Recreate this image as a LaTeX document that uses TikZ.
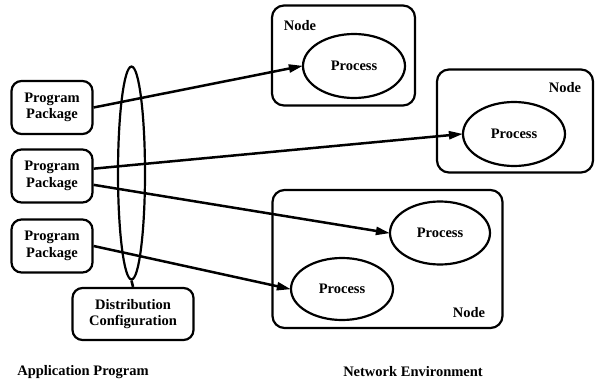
\documentclass[tikz,border=0pt]{standalone}
\usepackage{fontspec}
\setmainfont{Liberation Serif}
\usetikzlibrary{arrows.meta,shapes.geometric}
\begin{document}
\begin{tikzpicture}[x=1pt,y=-1pt,
  txt/.style={font=\fontsize{14.5}{16.5}\selectfont\bfseries, align=center, inner sep=0pt},
  pkg/.style={txt, draw, line width=2.2pt, rounded corners=10pt, minimum width=81pt, minimum height=53pt},
  hostbox/.style={draw, line width=2.2pt, rounded corners=12pt, inner sep=0pt},
  proc/.style={txt, draw, ellipse, line width=2.2pt, inner sep=0pt},
  conn/.style={line width=2.5pt, -{Triangle[length=14pt,width=8pt]}, shorten >=-1pt}]
\useasboundingbox (0,0) rectangle (598,388);
% host nodes
\node[hostbox, minimum width=143pt, minimum height=100pt] (n1) at (343.5,55.5) {};
\node[hostbox, minimum width=156pt, minimum height=103pt] (n2) at (515,121) {};
\node[hostbox, minimum width=230pt, minimum height=138pt] (n3) at (387.5,259) {};
\node[txt] (l1) at (300,26) {Node};
\node[txt] (l2) at (565,88) {Node};
\node[txt] (l3) at (469,313) {Node};
% processes
\node[proc, minimum width=102pt, minimum height=64pt] (p1) at (354,66) {Process};
\node[proc, minimum width=102pt, minimum height=64pt] (p2) at (514,134) {Process};
\node[proc, minimum width=100pt, minimum height=63pt] (p3) at (440,233) {Process};
\node[proc, minimum width=102pt, minimum height=62pt] (p4) at (342,289) {Process};
% program packages
\node[pkg] (a) at (52,107.5) {Program\\Package};
\node[pkg] (b) at (52,176) {Program\\Package};
\node[pkg] (c) at (52,246) {Program\\Package};
% distribution ellipse and box
\node[draw, ellipse, line width=2.2pt, minimum width=27pt, minimum height=213pt, inner sep=0pt] (e) at (131.5,173) {};
\node[pkg, minimum width=121pt, minimum height=52pt] (d) at (133,314) {Distribution\\Configuration};
\draw[line width=2.6pt] (e.south) -- (d.north);
% connectors
\draw[conn] (a.east) -- (p1.west);
\draw[conn] (b.10) -- (p2.west);
\draw[conn] (b.-12) -- (p3.west);
\draw[conn] (c.east) -- (p4.west);
% captions
\node[txt] (cap1) at (83,372) {Application Program};
\node[txt] (cap2) at (413,372) {Network Environment};
\end{tikzpicture}
\end{document}
